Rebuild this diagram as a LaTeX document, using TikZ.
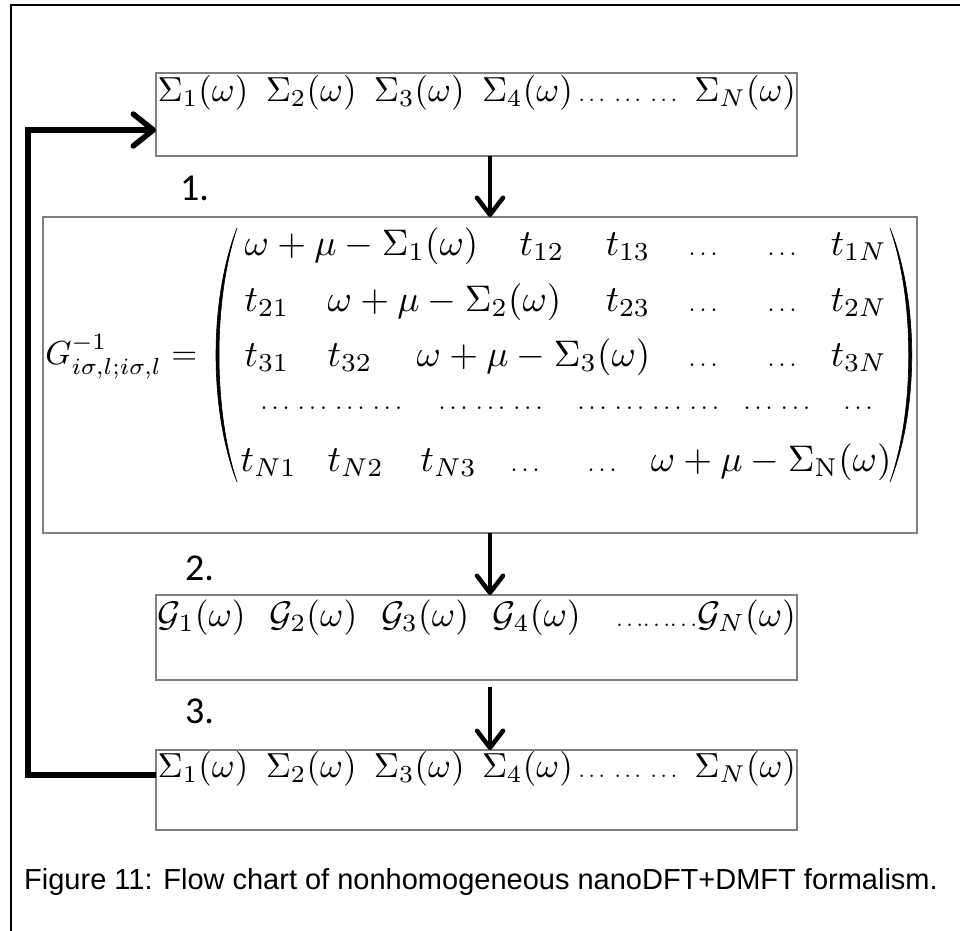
\documentclass[tikz,border=0pt]{standalone}
\usepackage{amsmath}
\usepackage{graphicx}
\usepackage{fontspec}
\newfontfamily\capfont{Liberation Sans}
\newfontfamily\numfont{Carlito}
\usetikzlibrary{arrows.meta}
\definecolor{boxgray}{HTML}{7F7F7F}
\newcommand\sdots{\scalebox{0.65}{$\ldots$}}
\begin{document}
\begin{tikzpicture}[x=1pt,y=-1pt,
  frame/.style={line width=2pt},
  flowbox/.style={draw=boxgray,line width=1.5pt,anchor=north west,inner sep=0pt,outer sep=0pt},
  rowtext/.style={inner sep=0pt,anchor=base west,scale=3.48},
  mx/.style={inner sep=0pt,anchor=base west,scale=3.7},
  dt/.style={inner sep=0pt,anchor=base west,scale=2.5},
  steplabel/.style={inner sep=0pt,anchor=base west,font=\numfont\fontsize{38}{44}\selectfont},
  capstyle/.style={inner sep=0pt,anchor=base west,font=\capfont\fontsize{29}{35}\selectfont},
  flowarrow/.style={line width=4.5pt,-{Straight Barb[length=17pt,width=26pt,round]}},
  loopline/.style={line width=5.5pt,line join=miter,-{Straight Barb[length=20pt,width=32pt,round]}},
  paren/.style={fill=black,draw=black,line width=0.6pt}
]
\useasboundingbox (0,0) rectangle (960,930);

% outer frame
\coordinate (fa) at (11,931);
\coordinate (fb) at (11,5);
\coordinate (fc) at (961,5);
\draw[frame] (fa) -- (fb) -- (fc);

% boxes
\node[flowbox,minimum width=641pt,minimum height=83pt] (top) at (156,73) {};
\node[flowbox,minimum width=874pt,minimum height=316pt] (mat) at (43,217) {};
\node[flowbox,minimum width=641pt,minimum height=85pt] (gbox) at (156,595) {};
\node[flowbox,minimum width=641pt,minimum height=80pt] (bot) at (156,750) {};

% box texts
\node[rowtext] (toprow) at (157,101) {$\Sigma_1(\omega)\enspace\Sigma_2(\omega)\enspace\Sigma_3(\omega)\enspace\Sigma_4(\omega)\,\sdots\;\sdots\;\sdots\enspace\Sigma_N(\omega)$};
\node[rowtext,scale=1.02] (grow) at (157,626) {$\mathcal{G}_1(\omega)\enspace\,\mathcal{G}_2(\omega)\enspace\,\mathcal{G}_3(\omega)\enspace\,\mathcal{G}_4(\omega)\quad\sdots\sdots\sdots\mathcal{G}_N(\omega)$};
\node[rowtext] (botrow) at (157,777) {$\Sigma_1(\omega)\enspace\Sigma_2(\omega)\enspace\Sigma_3(\omega)\enspace\Sigma_4(\omega)\,\sdots\;\sdots\;\sdots\enspace\Sigma_N(\omega)$};

% matrix
\node[mx,anchor=base east,scale=0.9] (glhs) at (198,364) {$G^{-1}_{i\sigma,l;i\sigma,l}=$};
\fill[paren] (237,228) .. controls (209,300) and (209,410) .. (237,482) .. controls (213,410) and (213,300) .. (237,228);
\fill[paren] (890,228) .. controls (919,300) and (919,410) .. (890,482) .. controls (915,410) and (915,300) .. (890,228);

\node[mx] (m11) at (244,255) {$\omega+\mu-\Sigma_1(\omega)$};
\node[mx] (m12) at (519,255) {$t_{12}$};
\node[mx] (m13) at (605,255) {$t_{13}$};
\node[dt] (m14) at (688,255) {$\ldots$};
\node[dt] (m15) at (767,255) {$\ldots$};
\node[mx] (m16) at (830,255) {$t_{1N}$};

\node[mx] (m21) at (244,311) {$t_{21}$};
\node[mx] (m22) at (327,311) {$\omega+\mu-\Sigma_2(\omega)$};
\node[mx] (m23) at (605,311) {$t_{23}$};
\node[dt] (m24) at (688,311) {$\ldots$};
\node[dt] (m25) at (767,311) {$\ldots$};
\node[mx] (m26) at (830,311) {$t_{2N}$};

\node[mx] (m31) at (244,366) {$t_{31}$};
\node[mx] (m32) at (327,366) {$t_{32}$};
\node[mx] (m33) at (416,366) {$\omega+\mu-\Sigma_3(\omega)$};
\node[dt] (m34) at (688,366) {$\ldots$};
\node[dt] (m35) at (767,366) {$\ldots$};
\node[mx] (m36) at (830,366) {$t_{3N}$};

\node[dt] (m41) at (260,409) {$\ldots\,\ldots\,\ldots\,\ldots$};
\node[dt] (m42) at (438,409) {$\ldots\,\ldots\,\ldots$};
\node[dt] (m43) at (577,409) {$\ldots\,\ldots\,\ldots\,\ldots$};
\node[dt] (m44) at (743,409) {$\ldots\,\ldots$};
\node[dt] (m45) at (843,409) {$\ldots$};

\node[mx] (m51) at (240,471) {$t_{N1}$};
\node[mx] (m52) at (327,471) {$t_{N2}$};
\node[mx] (m53) at (420,471) {$t_{N3}$};
\node[dt] (m54) at (510,471) {$\ldots$};
\node[dt] (m55) at (587,471) {$\ldots$};
\node[mx] (m56) at (650,471) {$\omega+\mu-\Sigma_{\mathrm{N}}(\omega)$};

% step labels
\node[steplabel] (n1) at (180,200) {1.};
\node[steplabel] (n2) at (185,580) {2.};
\node[steplabel] (n3) at (185,723) {3.};

% arrows
\coordinate (ax) at (490,0);
\coordinate (g3) at ([yshift=-7pt]gbox.south);
\draw[flowarrow] (top.south -| ax) -- (mat.north -| ax);
\draw[flowarrow] (mat.south -| ax) -- (gbox.north -| ax);
\draw[flowarrow] (g3 -| ax) -- (bot.north -| ax);

% feedback loop
\coordinate (lx) at (28,0);
\coordinate (lb) at ([yshift=-25pt]bot.north west);
\coordinate (lt) at ([yshift=-57pt]top.north west);
\draw[loopline] (lb) -- (lb -| lx) -- (lt -| lx) -- (lt);

% caption
\node[capstyle] (cap) at (24,889) {Figure 11: Flow chart of nonhomogeneous nanoDFT+DMFT formalism.};
\end{tikzpicture}
\end{document}
